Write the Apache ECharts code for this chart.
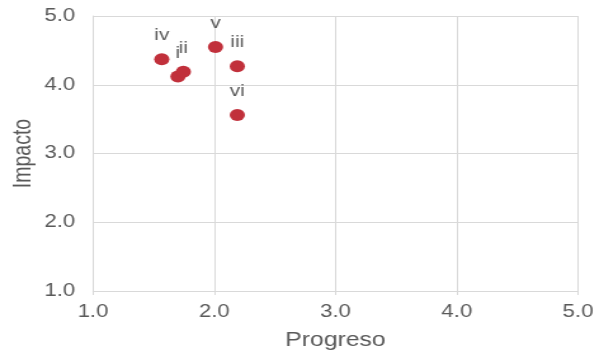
<!DOCTYPE html>
<html>
<head>
<meta charset="utf-8">
<script src="https://cdn.jsdelivr.net/npm/echarts@6/dist/echarts.min.js"></script>
<style>
  html, body { margin: 0; padding: 0; background: #fff; overflow: hidden; }
  /* The chart is drawn narrower and widened horizontally, giving the
     stretched lettering and oval markers of the original figure. */
  #chart { width: 472px; height: 356px; transform: scaleX(1.269); transform-origin: 0 0; }
</style>
</head>
<body>
<div id="chart"></div>
<script>
// Project labels with their progress (x) and impact (y) scores
const labels = ['i', 'ii', 'iii', 'iv', 'v', 'vi'];
const progreso = [1.70, 1.745, 2.19, 1.567, 2.01, 2.19];
const impacto = [4.12, 4.19, 4.27, 4.37, 4.55, 3.56];

const axisMin = 1;
const axisMax = 5;
const axisStep = 1;

const points = labels.map((name, i) => ({ name, value: [progreso[i], impacto[i]] }));

const grey = '#595959';
const gridGrey = '#d9d9d9';
const font = 'Liberation Sans, Arial, sans-serif';

const chart = echarts.init(document.getElementById('chart'), null, { renderer: 'canvas' });
chart.setOption({
  animation: false,
  grid: { left: 73.3, right: 16.5, top: 16, bottom: 65, containLabel: false, outerBoundsMode: 'none' },
  xAxis: {
    type: 'value', min: axisMin, max: axisMax, interval: axisStep,
    name: 'Progreso', nameLocation: 'middle', nameGap: 40, nameMoveOverlap: false,
    nameTextStyle: { color: grey, fontSize: 19.5, fontFamily: font },
    axisLine: { show: true, lineStyle: { color: gridGrey, width: 1 } },
    axisTick: { show: true, length: 4, lineStyle: { color: gridGrey } },
    axisLabel: { color: grey, fontSize: 17.5, fontFamily: font, margin: 12,
                 formatter: v => v.toFixed(1) },
    splitLine: { show: true, lineStyle: { color: gridGrey, width: 1 } }
  },
  yAxis: {
    type: 'value', min: axisMin, max: axisMax, interval: axisStep,
    name: 'Impacto', nameLocation: 'middle', nameGap: 45, nameRotate: 90, nameMoveOverlap: false,
    nameTextStyle: { color: grey, fontSize: 19.5, fontFamily: font },
    axisLine: { show: true, lineStyle: { color: gridGrey, width: 1 } },
    axisTick: { show: false },
    axisLabel: { color: grey, fontSize: 17.5, fontFamily: font, margin: 14,
                 formatter: v => v.toFixed(1) },
    splitLine: { show: true, lineStyle: { color: gridGrey, width: 1 } }
  },
  series: [{
    type: 'scatter',
    data: points,
    symbol: 'circle',
    symbolSize: 12,
    itemStyle: { color: '#c1303b', opacity: 1 },
    label: {
      show: true, position: 'top', distance: 9,
      formatter: p => p.name,
      color: grey, fontSize: 16.5, fontFamily: font
    }
  }]
});
</script>
</body>
</html>
